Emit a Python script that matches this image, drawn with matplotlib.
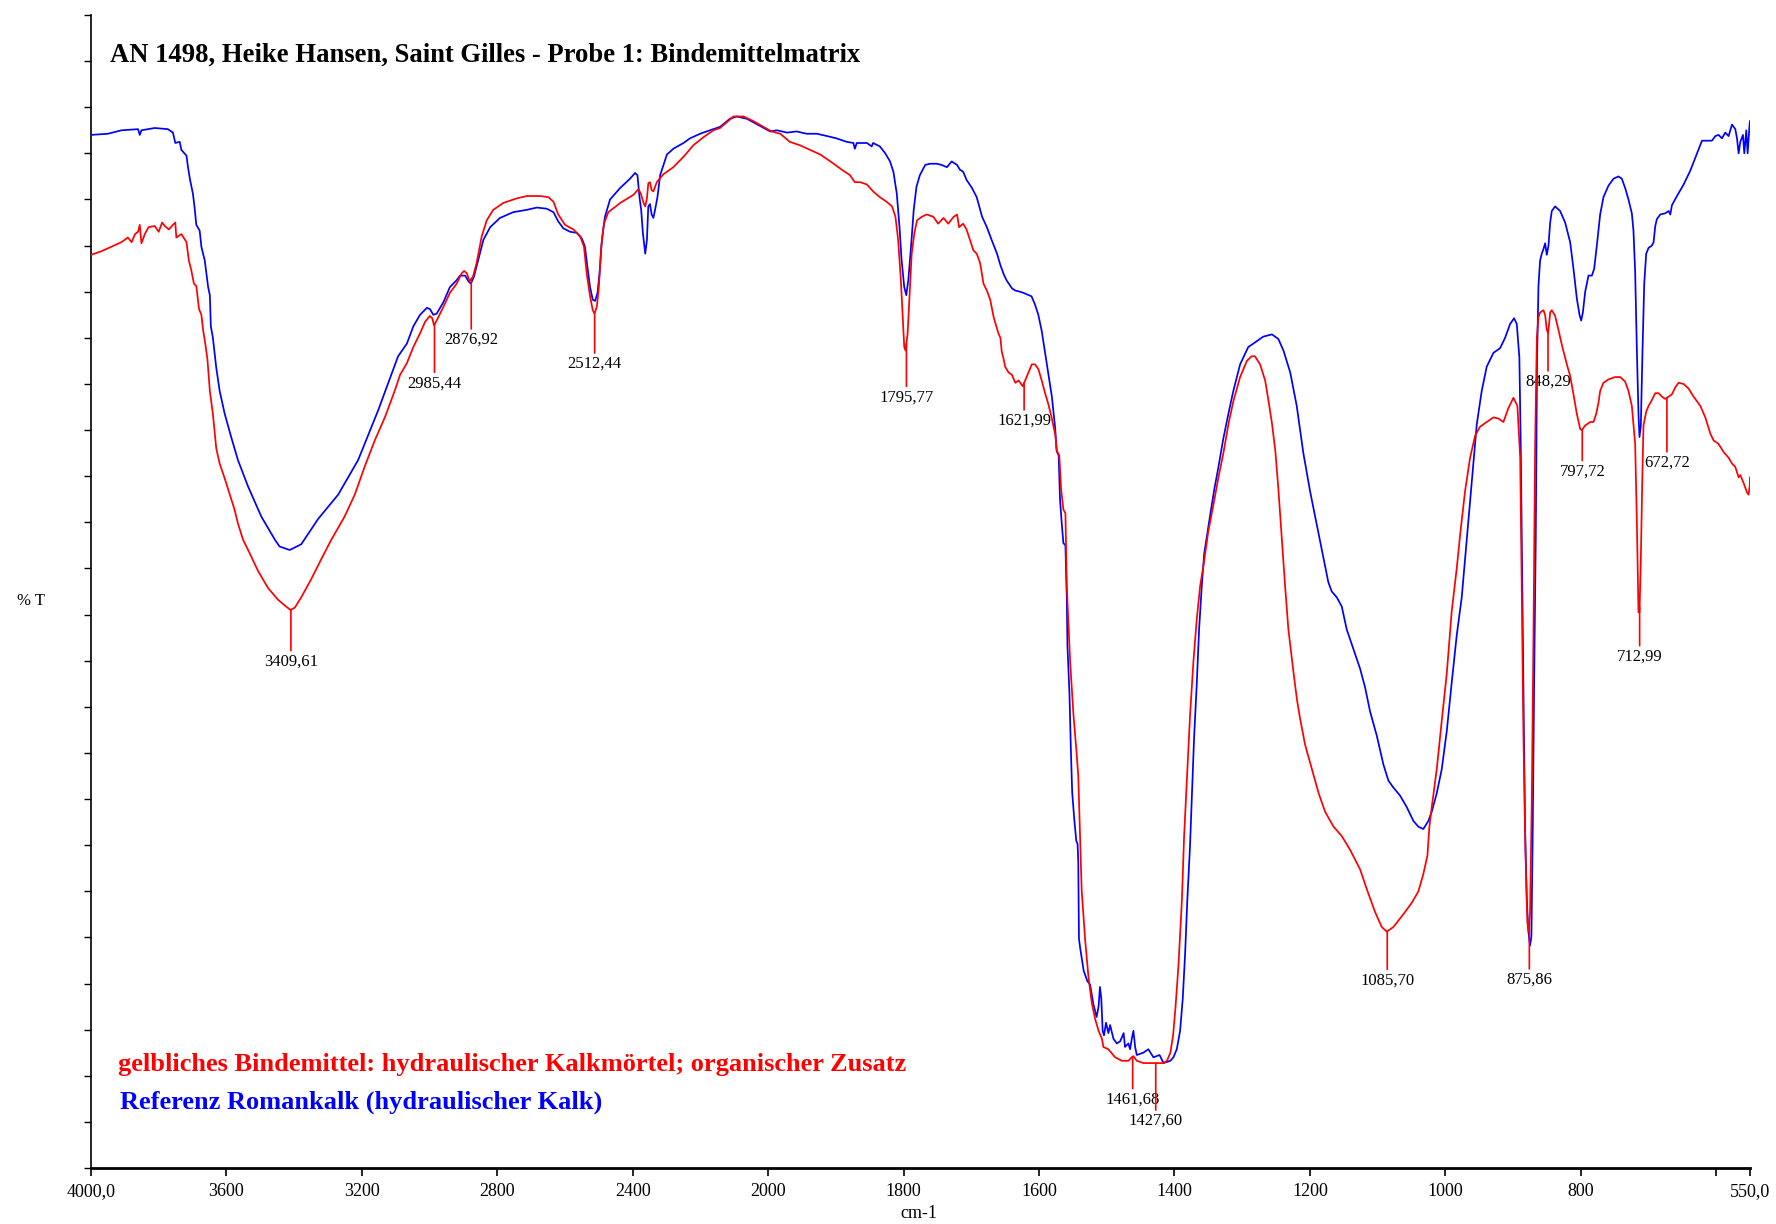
import numpy as np
import matplotlib
matplotlib.use("Agg")
import matplotlib.pyplot as plt

plt.rcParams["font.family"] = ["Liberation Serif", "DejaVu Serif"]

# ---------------------------------------------------------------------------
# Reference spectrum: Romankalk (hydraulic lime), wavenumber [cm-1] / %T
# ---------------------------------------------------------------------------
ref_wavenumber = np.array([
    4000, 3950, 3910, 3861, 3856, 3851, 3812, 3773, 3758, 3751,
    3738, 3733, 3718, 3713, 3708, 3699, 3694, 3689, 3679, 3674,
    3664, 3654, 3649, 3646, 3640, 3630, 3620, 3605, 3586, 3566,
    3536, 3497, 3457, 3443, 3413, 3379, 3329, 3270, 3211, 3152,
    3093,
    3067, 3048, 3028, 3008, 2999, 2989, 2979, 2959, 2940, 2920,
    2910, 2895, 2885, 2878, 2869, 2856, 2841, 2821, 2792, 2753,
    2713, 2683, 2654, 2634, 2620, 2605, 2585, 2565, 2550, 2541,
    2534, 2526, 2518, 2511, 2504, 2498, 2491, 2482, 2467, 2437,
    2408, 2393, 2386, 2380, 2375, 2370, 2363, 2358, 2354, 2349,
    2344, 2339, 2334, 2327, 2319, 2299, 2280, 2250, 2231, 2201,
    2172, 2142,
    2113, 2093, 2063, 2044, 2019, 1997, 1987, 1972, 1958, 1943,
    1928, 1913, 1899, 1884, 1874, 1872, 1869, 1854, 1847, 1845,
    1835, 1827, 1820, 1815, 1810, 1806, 1803, 1799, 1796, 1793,
    1789, 1785, 1781, 1776, 1768, 1761, 1751, 1744, 1736, 1729,
    1721, 1717, 1712, 1707, 1699, 1692, 1684, 1677, 1670, 1662,
    1657, 1652, 1648, 1640, 1635, 1628, 1623, 1611, 1606, 1601,
    1596, 1591, 1586, 1581, 1576, 1574, 1571, 1569, 1566, 1564,
    1561, 1559, 1558, 1555, 1553, 1551, 1548, 1545, 1543, 1542,
    1541, 1539, 1534, 1528.5, 1524.5, 1520, 1515, 1512, 1510, 1508,
    1506, 1504, 1501, 1497.5, 1495, 1490, 1485, 1480, 1475, 1473,
    1468, 1465.5, 1463, 1460.6, 1458, 1455.6, 1446, 1438.5, 1431, 1422,
    1416, 1406, 1401.5, 1396.5, 1391.6, 1387.7, 1384.3, 1381, 1377, 1374,
    1371, 1367, 1363.6, 1359.6, 1356, 1351, 1346, 1341, 1335, 1328,
    1320, 1313, 1303, 1291, 1281, 1269, 1256, 1246.5, 1239, 1229,
    1219.4,
    1209.6, 1199.7, 1189.8, 1180, 1172.7, 1167.7, 1160.3, 1152.9, 1145.5, 1135.7,
    1125.8, 1118.5, 1111.1, 1101.2, 1091.4, 1084, 1076.7, 1066.8, 1056.9, 1047.1,
    1039.7, 1032.4, 1025, 1020, 1012.6, 1005.2, 997.8, 990.5, 983.1, 975.7,
    968.3, 960.9, 953.5, 946.2, 938.8, 928.9, 919.1, 911.7, 904.3, 898.4,
    894.4, 890.6, 888.6, 887.1, 884.7, 882.2, 879.7, 877.3, 874.8, 872.8,
    870.8, 868.8, 866.4, 864.5, 862.4, 860,
    857.5, 855, 852.6, 850.1, 847.6, 845.1, 842.7, 837.8, 830.4, 823,
    815.6, 810.7, 805.7, 801.8, 799.3, 796.8, 793.4, 788.5, 783.5, 780.1,
    776.2, 771.3, 766.4, 759, 751.6, 744.2, 739.3, 734.4, 729.5, 724.5,
    722.1, 719.6, 717.1, 714.7, 713.2, 711.2, 708.7, 706.2, 703.3, 699.8,
    694.9, 692.4, 689.9, 687.5, 682.6, 675.2, 670.2, 667.7, 665.3, 657.9,
    648, 638.2, 628.3, 620.9, 606.2, 601.2, 596.4, 591.4, 586.5, 581.6,
    576.6, 571.7, 569.2, 566.8, 564.3, 560.4, 558.4, 555.5, 553.5, 550.5,
    550,
])
ref_transmittance = np.array([
    89.6, 89.7, 90.0, 90.1, 89.6, 90.0, 90.2, 90.1, 89.8, 88.9,
    89.0, 88.3, 87.8, 86.7, 85.8, 84.5, 83.3, 81.8, 81.3, 79.9,
    78.7, 76.4, 75.7, 73.0, 72.0, 69.4, 67.4, 65.4, 63.4, 61.4,
    59.1, 56.5, 54.5, 53.9, 53.6, 54.1, 56.3, 58.4, 61.4, 65.7,
    70.4,
    71.5, 73.0, 74.0, 74.6, 74.5, 74.0, 74.1, 75.1, 76.4, 77.0,
    77.4, 77.4, 76.9, 76.7, 77.3, 78.8, 80.5, 81.6, 82.4, 82.9,
    83.1, 83.3, 83.2, 82.9, 82.1, 81.5, 81.2, 81.1, 80.6, 79.9,
    78.2, 76.4, 75.3, 75.2, 75.9, 77.6, 80.5, 82.5, 84.0, 85.0,
    85.8, 86.3, 86.1, 84.2, 83.1, 81.1, 79.3, 80.5, 83.4, 83.6,
    82.7, 82.4, 83.1, 84.2, 86.1, 87.9, 88.4, 88.9, 89.3, 89.7,
    90.0, 90.3,
    91.0, 91.2, 91.0, 90.7, 90.3, 89.9, 90.0, 89.8, 89.9, 89.7,
    89.7, 89.5, 89.3, 89.0, 88.9, 88.4, 88.9, 88.9, 88.6, 88.9,
    88.6, 88.0, 87.3, 86.4, 84.5, 81.6, 78.8, 76.4, 75.7, 77.0,
    79.9, 83.1, 85.1, 86.1, 87.0, 87.1, 87.1, 87.0, 86.8, 87.3,
    87.0, 86.6, 86.4, 85.7, 85.0, 84.2, 82.5, 81.6, 80.5, 79.3,
    78.3, 77.5, 77.0, 76.3, 76.1, 76.0, 75.9, 75.6, 74.9, 74.0,
    72.6, 70.7, 68.8, 66.9, 64.1, 62.2, 61.8, 58.0, 55.6, 54.2,
    54.0, 49.5, 45.3, 41.1, 36.4, 32.6, 30.3, 28.4, 28.1, 26.5,
    19.9, 19.0, 17.1, 16.2, 15.9, 14.3, 13.1, 14.0, 15.7, 14.7,
    11.9, 11.5, 12.6, 11.7, 12.4, 11.2, 10.8, 11.0, 11.7, 10.5,
    10.8, 10.3, 11.2, 11.9, 10.5, 9.8, 10.0, 10.3, 9.6, 9.8,
    9.1, 9.3, 9.6, 10.3, 11.9, 14.7, 18.5, 23.2, 27.9, 32.6,
    37.3, 42.0, 46.7, 50.5, 53.3, 55.2, 57.1, 58.9, 60.8, 63.2,
    65.5, 67.4, 69.7, 71.2, 71.6, 72.1, 72.3, 71.9, 70.9, 69.0,
    66.1,
    62.0, 58.7, 55.8, 52.9, 50.8, 50.0, 49.5, 48.7, 46.7, 45.0,
    43.3, 41.7, 39.6, 37.5, 35.0, 33.6, 33.0, 32.3, 31.3, 30.1,
    29.6, 29.4, 30.1, 30.9, 32.5, 34.6, 37.9, 42.1, 46.2, 49.5,
    54.5, 59.5, 64.5, 67.4, 69.5, 70.7, 71.1, 72.0, 73.2, 73.7,
    73.2, 70.3, 62.8, 54.5, 42.1, 29.6, 23.4, 20.5, 19.3, 20.1,
    29.6, 42.1, 54.5, 70.0, 76.5, 78.7,
    79.3, 79.7, 80.2, 79.2, 80.0, 82.0, 83.0, 83.4, 83.0, 82.0,
    80.3, 78.0, 75.4, 74.0, 73.5, 74.2, 76.0, 77.4, 77.4, 78.0,
    80.0, 82.7, 84.2, 85.2, 85.8, 86.0, 85.8, 85.0, 84.0, 82.8,
    81.3, 77.7, 71.0, 65.4, 63.4, 64.4, 71.0, 76.7, 79.3, 79.8,
    80.0, 80.3, 81.7, 82.3, 82.7, 82.8, 83.0, 82.7, 83.5, 84.3,
    85.3, 86.5, 88.0, 89.1, 89.1, 89.5, 89.6, 89.3, 89.8, 89.5,
    90.5, 90.1, 89.3, 88.0, 89.0, 89.6, 88.0, 90.0, 88.0, 90.6,
    90.8,
])

# ---------------------------------------------------------------------------
# Sample spectrum: yellowish binder (hydraulic lime mortar, organic additive)
# ---------------------------------------------------------------------------
sample_wavenumber = np.array([
    4000, 3970, 3940, 3910, 3891, 3880, 3870, 3861, 3856, 3851,
    3841, 3830, 3812, 3800, 3790, 3782, 3770, 3758, 3751, 3748,
    3733, 3718, 3711, 3704, 3696, 3689, 3681, 3674, 3669, 3662,
    3656, 3649, 3640, 3630, 3620, 3605, 3590, 3576, 3566, 3551,
    3531, 3507, 3477, 3448, 3428, 3411, 3398, 3379, 3349, 3320,
    3290, 3251, 3221, 3192, 3162, 3132, 3103,
    3087, 3067, 3048, 3028, 3013, 2999, 2992, 2987, 2979, 2959,
    2940, 2920, 2905, 2898, 2890, 2882, 2872, 2861, 2846, 2831,
    2812, 2782, 2742, 2713, 2674, 2649, 2634, 2620, 2600, 2575,
    2555, 2544, 2536, 2526, 2518, 2513, 2506, 2500, 2493, 2485,
    2472, 2437, 2398, 2383, 2376, 2368, 2363, 2358, 2354, 2349,
    2344, 2339, 2329, 2309, 2280, 2250, 2221, 2191, 2162, 2142,
    2122, 2103, 2073, 2044, 2014, 1995, 1982, 1968, 1953, 1938,
    1923, 1908, 1894, 1879, 1872, 1864, 1854, 1845, 1835, 1825,
    1817, 1812, 1808, 1804, 1801, 1799, 1797, 1794, 1791, 1788,
    1784, 1780, 1773, 1766, 1756, 1749, 1741, 1734, 1726, 1721,
    1718, 1712, 1707, 1702, 1697, 1692, 1687, 1682, 1677, 1672,
    1667, 1660,
    1657, 1655, 1652, 1650, 1645, 1640, 1635, 1630, 1624, 1620.5,
    1615.6, 1610.6, 1605.8, 1601, 1596, 1591, 1586, 1581, 1576, 1573.7,
    1570, 1567.4, 1564, 1561, 1559, 1554, 1549, 1545, 1542, 1539,
    1537, 1532, 1527, 1522, 1517, 1512, 1507, 1505, 1497.5, 1487.6,
    1477.7, 1468, 1463, 1460.6, 1455.6, 1445.8, 1426, 1416, 1411, 1406,
    1402, 1398.6, 1394, 1389, 1385.7, 1381.8, 1377, 1372, 1367, 1362,
    1357, 1350, 1342.5, 1335, 1327.7, 1320, 1313, 1303, 1293, 1286,
    1281, 1273.5, 1266, 1261, 1256, 1251, 1246.5, 1241.5, 1236.6, 1231.7,
    1224, 1219, 1214.5,
    1207, 1197, 1187, 1177.5, 1165, 1153, 1140.6, 1125.8, 1116, 1103.7,
    1093.8, 1086.4, 1076.7, 1062, 1049.5, 1039.7, 1032.4, 1026.4, 1023.5, 1020,
    1012.6, 1005.2, 997.8, 990.5, 983.1, 977.2, 970.8, 963.4, 956, 948.6,
    938.8, 928.9, 921.6, 914.2, 906.8, 899.4, 893.5, 889.4, 887.1, 884.7,
    881.7, 878.8, 876.7, 874.8, 872.3, 869.8, 867.3, 864.8, 862.4, 859.9,
    855, 852.6, 850.1, 848.1, 845.1, 842.7, 837.8, 832.9, 827.9, 820.5,
    815.6, 810.7, 805.7, 800.8, 798.3, 793.4, 786, 781.1, 777.2, 773.7,
    771.3, 766.4, 759, 749.1, 741.7, 734.4, 729.5, 724.5, 719.6, 717.1,
    714.7, 713.2, 711.2, 709.2, 707.3, 703.3, 699.8, 694.9, 689.9, 685,
    680, 675.2, 670.2, 665.3, 660.4, 655.5, 648, 640.7, 633.3, 623.4,
    616, 608.6, 603.7, 596.4, 589, 581.6, 576.6, 571.7, 566.8, 564.3,
    559.4, 554.5, 552, 550.5, 550,
])
sample_transmittance = np.array([
    79.2, 79.5, 79.9, 80.3, 80.7, 80.3, 81.0, 81.2, 81.8, 80.2,
    81.0, 81.6, 81.7, 81.2, 82.0, 81.7, 81.4, 81.8, 82.0, 80.7,
    81.0, 80.3, 78.7, 77.9, 76.7, 76.5, 74.5, 74.0, 72.7, 71.4,
    70.1, 67.4, 65.4, 62.4, 61.1, 59.8, 58.4, 57.1, 55.9, 54.5,
    53.3, 51.8, 50.3, 49.3, 48.8, 48.4, 48.6, 49.5, 51.1, 52.8,
    54.5, 56.5, 58.4, 60.8, 63.1, 65.1, 67.4,
    68.8, 69.8, 71.2, 72.4, 73.4, 73.9, 73.7, 73.1, 73.5, 74.7,
    75.9, 76.7, 77.6, 77.8, 77.6, 76.9, 77.3, 78.5, 80.8, 82.2,
    83.1, 83.7, 84.1, 84.3, 84.3, 84.2, 83.8, 82.7, 81.8, 81.4,
    80.8, 79.9, 77.6, 75.6, 74.4, 74.1, 74.7, 76.4, 79.9, 81.9,
    82.9, 83.7, 84.4, 84.9, 84.5, 83.7, 83.4, 84.1, 85.4, 85.5,
    84.8, 84.7, 85.5, 86.2, 86.8, 87.7, 88.7, 89.4, 90.0, 90.2,
    90.7, 91.2, 91.2, 90.8, 90.3, 89.9, 89.7, 89.0, 88.7, 88.3,
    87.9, 87.3, 86.7, 86.1, 85.5, 85.5, 85.3, 84.7, 84.2, 83.8,
    83.4, 82.5, 80.5, 77.0, 73.5, 71.2, 70.9, 72.4, 75.9, 79.3,
    81.1, 82.2, 82.5, 82.7, 82.5, 81.9, 82.4, 81.9, 82.5, 82.7,
    81.6, 81.9, 81.4, 80.5, 79.6, 79.3, 78.5, 76.7, 76.1, 75.3,
    73.8, 72.4,
    72.0, 70.8, 70.1, 69.5, 69.0, 68.8, 68.1, 68.3, 67.8, 68.3,
    69.0, 69.7, 69.7, 69.3, 68.3, 67.2, 66.2, 65.0, 63.6, 62.2,
    61.8, 58.9, 57.1, 56.8, 50.5, 43.9, 39.2, 36.4, 34.0, 27.9,
    24.1, 19.9, 16.6, 14.3, 12.9, 11.9, 11.2, 10.5, 10.3, 9.6,
    9.3, 9.3, 9.6, 9.7, 9.3, 9.1, 9.1, 9.1, 9.3, 10.0,
    11.5, 13.8, 17.6, 23.2, 28.8, 33.5, 39.2, 43.9, 47.6, 50.5,
    52.3, 55.2, 57.5, 59.9, 62.0, 64.6, 66.5, 68.6, 70.0, 70.4,
    70.4, 69.7, 68.3, 66.5, 64.6, 62.2, 58.9, 54.7, 50.5, 46.7,
    42.9, 40.6, 39.0,
    36.7, 34.6, 32.5, 30.9, 29.6, 28.8, 27.6, 25.9, 24.2, 22.2,
    20.9, 20.5, 20.9, 22.0, 23.0, 24.0, 25.5, 27.1, 29.6, 31.3,
    34.6, 38.8, 42.9, 48.3, 52.0, 55.4, 58.7, 61.6, 63.5, 64.3,
    64.7, 65.1, 65.0, 64.7, 65.9, 66.8, 66.1, 61.6, 50.4, 37.9,
    27.6, 21.3, 20.5, 22.2, 31.7, 46.2, 62.8, 72.0, 73.8, 74.2,
    74.4, 74.0, 72.7, 72.4, 74.2, 74.4, 73.9, 72.7, 71.4, 69.7,
    68.7, 67.1, 65.4, 64.1, 64.0, 64.4, 64.7, 64.7, 65.4, 66.4,
    67.4, 68.1, 68.4, 68.6, 68.6, 68.2, 67.4, 66.1, 62.8, 56.1,
    48.2, 48.2, 52.8, 59.4, 64.4, 65.6, 66.1, 66.6, 67.2, 67.2,
    66.9, 66.7, 66.9, 67.1, 67.7, 68.1, 68.0, 67.6, 66.9, 66.1,
    65.1, 63.7, 63.1, 62.8, 62.1, 61.6, 61.1, 60.8, 59.9, 60.1,
    59.4, 58.6, 58.4, 59.1, 59.9,
])

# Labelled band positions of the sample spectrum
peak_positions = [3409.61, 2985.44, 2876.92, 2512.44, 1795.77, 1621.99, 1461.68,
                  1427.60, 1085.70, 875.86, 848.29, 797.72, 712.99, 672.72]
# Length of each marker line below the band (pixels)
peak_drop_px = [41, 48, 50, 40, 43, 27, 32, 47, 38, 46, 38, 31, 39, 54]

x_ticks = [4000, 3600, 3200, 2800, 2400, 2000, 1800, 1600, 1400, 1200, 1000,
           800, 600, 550]
x_tick_labels = ["4000,0", "3600", "3200", "2800", "2400", "2000", "1800",
                 "1600", "1400", "1200", "1000", "800", "", "550,0"]

title_text = "AN 1498, Heike Hansen, Saint Gilles - Probe 1: Bindemittelmatrix"
sample_label = "gelbliches Bindemittel: hydraulischer Kalkmörtel; organischer Zusatz"
ref_label = "Referenz Romankalk (hydraulischer Kalk)"

RED = "#ff0000"
BLUE = "#0000ff"


# Wavenumber axis: the range above 2000 cm-1 is compressed by a factor of two
def compress(x):
    x = np.asarray(x, dtype=float)
    return np.where(x >= 2000, 2000 + (x - 2000) / 2.0, x)


def expand(u):
    u = np.asarray(u, dtype=float)
    return np.where(u >= 2000, 2000 + (u - 2000) * 2.0, u)


W, H = 1776, 1224
fig = plt.figure(figsize=(W / 100, H / 100), dpi=100)
ax = fig.add_axes([91 / W, 1 - 1168 / H, (1750 - 91) / W, (1168 - 15) / H])

ax.set_xscale("function", functions=(compress, expand))
ax.set_xlim(4000, 550)
ax.set_ylim(0, 100)

ax.plot(ref_wavenumber, ref_transmittance, color=BLUE, lw=1.25, zorder=3)
ax.plot(sample_wavenumber, sample_transmittance, color=RED, lw=1.25, zorder=4)

# Band markers with their wavenumber labels
xs = sample_wavenumber[::-1]
ys = sample_transmittance[::-1]
for pos, drop in zip(peak_positions, peak_drop_px):
    y0 = float(np.interp(pos, xs, ys))
    ax.annotate("", xy=(pos, y0), xytext=(0, -drop), textcoords="offset pixels",
                arrowprops=dict(arrowstyle="-", color=RED, lw=1.2,
                                shrinkA=0, shrinkB=0), zorder=5)
    ax.annotate(f"{pos:.2f}".replace(".", ","), xy=(pos, y0),
                xytext=(0, -drop - 3), textcoords="offset pixels",
                ha="center", va="top", fontsize=12, color="black")

# Axes styling: only left and bottom spines
for side in ("top", "right"):
    ax.spines[side].set_visible(False)
ax.spines["left"].set_linewidth(1.2)
ax.spines["bottom"].set_linewidth(2.0)

ax.set_xticks(x_ticks)
ax.set_xticklabels(x_tick_labels)
ax.xaxis.set_minor_locator(matplotlib.ticker.NullLocator())
ax.tick_params(axis="x", direction="out", length=6, width=1.2, pad=5,
               labelsize=13)
ax.set_yticks(np.arange(0, 101, 4))
ax.set_yticklabels([])
ax.yaxis.set_minor_locator(matplotlib.ticker.NullLocator())
ax.tick_params(axis="y", direction="out", length=5, width=1.0)

fig.text(31 / W, 1 - 601 / H, "% T", ha="center", va="center", fontsize=12)
fig.text(919 / W, 1 - 1213 / H, "cm-1", ha="center", va="center", fontsize=13)

fig.text(110 / W, 1 - 55 / H, title_text, ha="left", va="center",
         fontsize=19.2, fontweight="bold", color="black")
fig.text(118 / W, 1 - 1065 / H, sample_label, ha="left", va="center",
         fontsize=19, fontweight="bold", color=RED)
fig.text(120 / W, 1 - 1102 / H, ref_label, ha="left", va="center",
         fontsize=19, fontweight="bold", color=BLUE)

fig.savefig("out.png", dpi=100)
